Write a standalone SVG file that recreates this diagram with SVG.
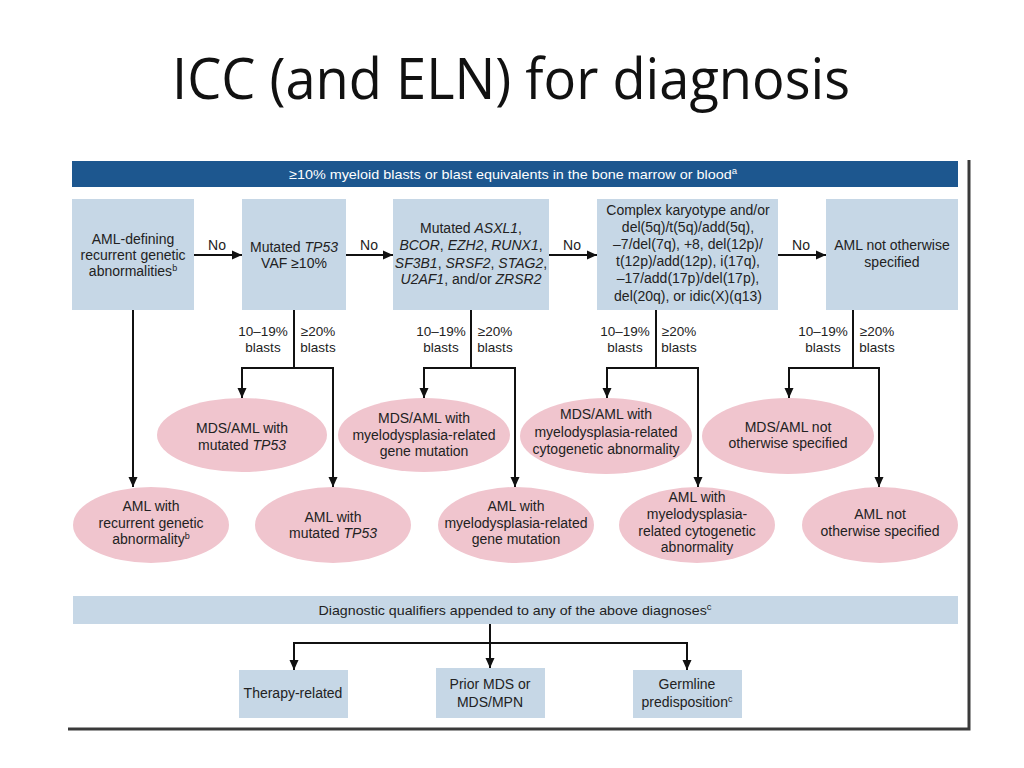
<svg xmlns="http://www.w3.org/2000/svg" width="1024" height="768" viewBox="0 0 1024 768">
<style>
.bg{fill:#ffffff}
.box{fill:#c6d7e6}
.ell{fill:#f0c5ce}
.bar{fill:#1d578f}
.t{font-family:"Liberation Sans",Arial,sans-serif;font-size:14px;fill:#222;text-anchor:middle}
.s{font-size:13.5px}
.w{fill:#ffffff}
.i{font-style:italic}
.c path{stroke:#111;stroke-width:2;fill:none}
.frame{stroke:#3a3a3a;stroke-width:3;fill:none}
.title{font-family:"Open Sans","Liberation Sans",sans-serif;font-size:57px;fill:#111}
</style>
<defs>
<marker id="ah" markerUnits="userSpaceOnUse" markerWidth="10" markerHeight="10" refX="10" refY="5" orient="auto">
<path d="M0,0.5 L10,5 L0,9.5 z" fill="#111"/>
</marker>
</defs>
<rect class="bg" x="0" y="0" width="1024" height="768"/>
<text class="title" x="172" y="99" textLength="678" lengthAdjust="spacingAndGlyphs">ICC (and ELN) for diagnosis</text>

<g id="header">
<rect class="bar" x="72" y="161" width="886" height="26"/>
<text class="t w s" x="513" y="179" textLength="448" lengthAdjust="spacingAndGlyphs">≥10% myeloid blasts or blast equivalents in the bone marrow or blood<tspan font-size="9" baseline-shift="super">a</tspan></text>
</g>

<g id="box1">
<rect class="box" x="72" y="199" width="122" height="111"/>
<text class="t" x="133" y="244">AML-defining</text>
<text class="t" x="133" y="260">recurrent genetic</text>
<text class="t" x="133" y="276">abnormalities<tspan font-size="9" baseline-shift="super">b</tspan></text>
</g>
<g id="box2">
<rect class="box" x="242" y="199" width="104" height="111"/>
<text class="t" x="294" y="252">Mutated <tspan class="i">TP53</tspan></text>
<text class="t" x="294" y="268">VAF ≥10%</text>
</g>
<g id="box3">
<rect class="box" x="393" y="199" width="156" height="111"/>
<text class="t" x="471" y="233">Mutated <tspan class="i">ASXL1</tspan>,</text>
<text class="t" x="471" y="250"><tspan class="i">BCOR</tspan>, <tspan class="i">EZH2</tspan>, <tspan class="i">RUNX1</tspan>,</text>
<text class="t" x="471" y="268"><tspan class="i">SF3B1</tspan>, <tspan class="i">SRSF2</tspan>, <tspan class="i">STAG2</tspan>,</text>
<text class="t" x="471" y="284"><tspan class="i">U2AF1</tspan>, and/or <tspan class="i">ZRSR2</tspan></text>
</g>
<g id="box4">
<rect class="box" x="597" y="199" width="181" height="111"/>
<text class="t" x="688" y="215">Complex karyotype and/or</text>
<text class="t" x="688" y="232">del(5q)/t(5q)/add(5q),</text>
<text class="t" x="688" y="249">–7/del(7q), +8, del(12p)/</text>
<text class="t" x="688" y="266">t(12p)/add(12p), i(17q),</text>
<text class="t" x="688" y="283">–17/add(17p)/del(17p),</text>
<text class="t" x="688" y="301">del(20q), or idic(X)(q13)</text>
</g>
<g id="box5">
<rect class="box" x="826" y="199" width="132" height="111"/>
<text class="t" x="892" y="250">AML not otherwise</text>
<text class="t" x="892" y="267">specified</text>
</g>

<g id="labels">
<text class="t" x="217" y="250">No</text>
<text class="t" x="369" y="250">No</text>
<text class="t" x="572" y="250">No</text>
<text class="t" x="801" y="250">No</text>
<text class="t s" x="263" y="336">10–19%</text>
<text class="t s" x="263" y="352">blasts</text>
<text class="t s" x="318" y="336">≥20%</text>
<text class="t s" x="318" y="352">blasts</text>
<text class="t s" x="441" y="336">10–19%</text>
<text class="t s" x="441" y="352">blasts</text>
<text class="t s" x="495" y="336">≥20%</text>
<text class="t s" x="495" y="352">blasts</text>
<text class="t s" x="625" y="336">10–19%</text>
<text class="t s" x="625" y="352">blasts</text>
<text class="t s" x="679" y="336">≥20%</text>
<text class="t s" x="679" y="352">blasts</text>
<text class="t s" x="823" y="336">10–19%</text>
<text class="t s" x="823" y="352">blasts</text>
<text class="t s" x="877" y="336">≥20%</text>
<text class="t s" x="877" y="352">blasts</text>
</g>

<g id="e1">
<ellipse class="ell" cx="242" cy="435" rx="85" ry="37"/>
<text class="t" x="242" y="433">MDS/AML with</text>
<text class="t" x="242" y="450">mutated <tspan class="i">TP53</tspan></text>
</g>
<g id="e2">
<ellipse class="ell" cx="424" cy="435" rx="86" ry="37"/>
<text class="t" x="424" y="423">MDS/AML with</text>
<text class="t" x="424" y="440">myelodysplasia-related</text>
<text class="t" x="424" y="456">gene mutation</text>
</g>
<g id="e3">
<ellipse class="ell" cx="606" cy="436" rx="86" ry="38"/>
<text class="t" x="606" y="419">MDS/AML with</text>
<text class="t" x="606" y="437">myelodysplasia-related</text>
<text class="t" x="606" y="454">cytogenetic abnormality</text>
</g>
<g id="e4">
<ellipse class="ell" cx="788" cy="436" rx="86" ry="38"/>
<text class="t" x="788" y="432">MDS/AML not</text>
<text class="t" x="788" y="448">otherwise specified</text>
</g>
<g id="l1">
<ellipse class="ell" cx="151" cy="525" rx="78" ry="38"/>
<text class="t" x="151" y="511">AML with</text>
<text class="t" x="151" y="528">recurrent genetic</text>
<text class="t" x="151" y="544">abnormality<tspan font-size="9" baseline-shift="super">b</tspan></text>
</g>
<g id="l2">
<ellipse class="ell" cx="333" cy="525" rx="78" ry="38"/>
<text class="t" x="333" y="522">AML with</text>
<text class="t" x="333" y="538">mutated <tspan class="i">TP53</tspan></text>
</g>
<g id="l3">
<ellipse class="ell" cx="516" cy="525" rx="78" ry="38"/>
<text class="t" x="516" y="511">AML with</text>
<text class="t" x="516" y="528">myelodysplasia-related</text>
<text class="t" x="516" y="544">gene mutation</text>
</g>
<g id="l4">
<ellipse class="ell" cx="697" cy="525" rx="78" ry="38"/>
<text class="t" x="697" y="502">AML with</text>
<text class="t" x="697" y="519">myelodysplasia-</text>
<text class="t" x="697" y="536">related cytogenetic</text>
<text class="t" x="697" y="552">abnormality</text>
</g>
<g id="l5">
<ellipse class="ell" cx="880" cy="525" rx="78" ry="38"/>
<text class="t" x="880" y="519">AML not</text>
<text class="t" x="880" y="536">otherwise specified</text>
</g>

<g id="qualifiers">
<rect class="box" x="73" y="596" width="885" height="28"/>
<text class="t s" x="515" y="615" textLength="393" lengthAdjust="spacingAndGlyphs">Diagnostic qualifiers appended to any of the above diagnoses<tspan font-size="9" baseline-shift="super">c</tspan></text>
</g>
<g id="q1">
<rect class="box" x="239" y="670" width="109" height="48"/>
<text class="t" x="293" y="698">Therapy-related</text>
</g>
<g id="q2">
<rect class="box" x="436" y="668" width="109" height="50"/>
<text class="t" x="490" y="689">Prior MDS or</text>
<text class="t" x="490" y="707">MDS/MPN</text>
</g>
<g id="q3">
<rect class="box" x="633" y="670" width="109" height="48"/>
<text class="t" x="687" y="689">Germline</text>
<text class="t" x="687" y="707">predisposition<tspan font-size="9" baseline-shift="super">c</tspan></text>
</g>

<g id="connectors" class="c">
<path d="M194,255 H242" marker-end="url(#ah)"/>
<path d="M346,255 H393" marker-end="url(#ah)"/>
<path d="M549,255 H597" marker-end="url(#ah)"/>
<path d="M778,255 H826" marker-end="url(#ah)"/>
<path d="M133,310 V487" marker-end="url(#ah)"/>
<path d="M294,310 V368"/>
<path d="M241,368 H334"/>
<path d="M242,368 V398" marker-end="url(#ah)"/>
<path d="M333,368 V487" marker-end="url(#ah)"/>
<path d="M471,310 V368"/>
<path d="M423,368 H516"/>
<path d="M424,368 V398" marker-end="url(#ah)"/>
<path d="M515,368 V487" marker-end="url(#ah)"/>
<path d="M656,310 V368"/>
<path d="M606,368 H699"/>
<path d="M607,368 V398" marker-end="url(#ah)"/>
<path d="M698,368 V487" marker-end="url(#ah)"/>
<path d="M853,310 V368"/>
<path d="M788,368 H880"/>
<path d="M789,368 V398" marker-end="url(#ah)"/>
<path d="M879,368 V487" marker-end="url(#ah)"/>
<path d="M490,624 V668" marker-end="url(#ah)"/>
<path d="M293,643 H688"/>
<path d="M294,643 V670" marker-end="url(#ah)"/>
<path d="M687,643 V670" marker-end="url(#ah)"/>
</g>

<g id="frame">
<path class="frame" d="M969,160 V729 H68"/>
</g>
</svg>
